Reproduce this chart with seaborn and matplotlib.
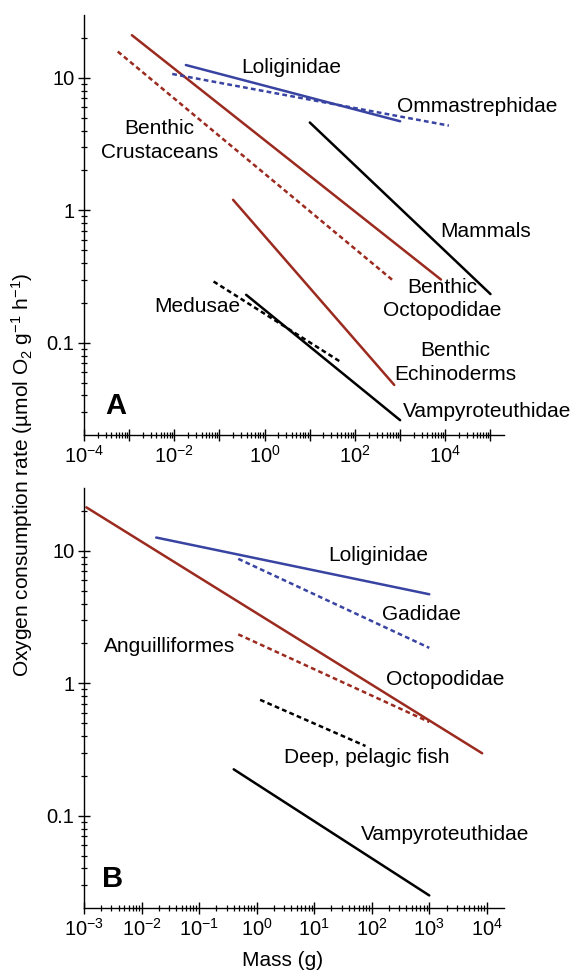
import matplotlib
matplotlib.use("Agg")
import matplotlib.pyplot as plt
import matplotlib.ticker as mticker
import numpy as np
import pandas as pd
import seaborn as sns

# Panel A: fitted allometric lines (mass in g, rate in umol O2 g-1 h-1), start and end of each line
a_groups = ["Benthic Octopodidae", "Benthic Crustaceans", "Loliginidae", "Ommastrephidae",
            "Mammals", "Benthic Echinoderms", "Medusae", "Vampyroteuthidae"]
a_mass_lo = [1.15e-3, 5.6e-4, 0.018, 0.009, 10, 0.2, 0.074, 0.39]
a_mass_hi = [8000, 740, 1000, 12000, 1e5, 740, 47, 1000]
a_rate_lo = [21, 15.8, 12.5, 10.7, 4.6, 1.2, 0.29, 0.23]
a_rate_hi = [0.30, 0.29, 4.7, 4.36, 0.233, 0.048, 0.072, 0.026]

# Panel B
b_groups = ["Octopodidae", "Loliginidae", "Gadidae", "Anguilliformes",
            "Deep, pelagic fish", "Vampyroteuthidae"]
b_mass_lo = [1.1e-3, 0.018, 0.48, 0.48, 1.15, 0.4]
b_mass_hi = [8300, 1000, 1000, 1000, 78, 1000]
b_rate_lo = [21.3, 12.6, 8.7, 2.34, 0.75, 0.224]
b_rate_hi = [0.296, 4.7, 1.85, 0.51, 0.336, 0.025]

y_tick_values = [0.1, 1, 10]
y_tick_labels = ["0.1", "1", "10"]

RED = "#9b2a1f"
BLUE = "#3843a2"
BLACK = "#000000"
DASH = (1.9, 1.3)

a_colors = {"Benthic Octopodidae": RED, "Benthic Crustaceans": RED, "Loliginidae": BLUE,
            "Ommastrephidae": BLUE, "Mammals": BLACK, "Benthic Echinoderms": RED,
            "Medusae": BLACK, "Vampyroteuthidae": BLACK}
a_dashed = ["Benthic Crustaceans", "Ommastrephidae", "Medusae"]
b_colors = {"Octopodidae": RED, "Loliginidae": BLUE, "Gadidae": BLUE, "Anguilliformes": RED,
            "Deep, pelagic fish": BLACK, "Vampyroteuthidae": BLACK}
b_dashed = ["Gadidae", "Anguilliformes", "Deep, pelagic fish"]

# label placement (data coords)
a_text = [
    ("Loliginidae", 10 ** 0.6, 12.0, "center"),
    ("Ommastrephidae", 10 ** 2.92, 6.1, "left"),
    ("Benthic\nCrustaceans", 10 ** -2.33, 3.36, "center"),
    ("Mammals", 10 ** 4.9, 0.69, "center"),
    ("Benthic\nOctopodidae", 10 ** 3.94, 0.214, "center"),
    ("Medusae", 10 ** -1.5, 0.188, "center"),
    ("Benthic\nEchinoderms", 10 ** 4.23, 0.071, "center"),
    ("Vampyroteuthidae", 10 ** 3.06, 0.0305, "left"),
]
b_text = [
    ("Loliginidae", 10 ** 2.11, 9.2, "center"),
    ("Gadidae", 10 ** 2.86, 3.3, "center"),
    ("Anguilliformes", 10 ** -1.51, 1.91, "center"),
    ("Octopodidae", 10 ** 3.27, 1.06, "center"),
    ("Deep, pelagic fish", 10 ** 1.92, 0.274, "center"),
    ("Vampyroteuthidae", 10 ** 3.28, 0.0718, "center"),
]

sns.set_theme(style="ticks")
plt.rcParams["font.family"] = ["Liberation Sans", "DejaVu Sans"]
plt.rcParams["mathtext.fontset"] = "custom"
plt.rcParams["mathtext.rm"] = "Liberation Sans"
plt.rcParams["mathtext.it"] = "Liberation Sans:italic"
plt.rcParams["mathtext.bf"] = "Liberation Sans:bold"
plt.rcParams["axes.linewidth"] = 1.0
plt.rcParams["axes.edgecolor"] = "black"
plt.rcParams["axes.labelcolor"] = "black"
plt.rcParams["text.color"] = "black"
plt.rcParams["xtick.color"] = "black"
plt.rcParams["ytick.color"] = "black"
plt.rcParams["xtick.labelcolor"] = "black"
plt.rcParams["ytick.labelcolor"] = "black"


def draw_lines(ax, groups, mass_lo, mass_hi, rate_lo, rate_hi, colors, dashed):
    df = pd.DataFrame({
        "group": groups + groups,
        "mass": mass_lo + mass_hi,
        "rate": rate_lo + rate_hi,
    })
    dashes = {g: (DASH if g in dashed else "") for g in groups}
    sns.lineplot(data=df, x="mass", y="rate", hue="group", style="group",
                 palette=colors, dashes=dashes, estimator=None, sort=True,
                 legend=False, lw=1.8, ax=ax)
    ax.set_xlabel("")
    ax.set_ylabel("")


def style_axes(ax, xmin_exp, xmax, labeled_exps):
    ax.set_xscale("log")
    ax.set_yscale("log")
    ax.set_xlim(10.0 ** xmin_exp, xmax)
    ax.set_ylim(0.0201, 29.8)

    max_exp = int(np.floor(np.log10(xmax)))
    majors = [10.0 ** e for e in range(xmin_exp, max_exp + 1)]
    ax.xaxis.set_major_locator(mticker.FixedLocator(majors))

    def fmt(v, pos):
        e = int(round(np.log10(v)))
        if e in labeled_exps:
            return r"$\mathdefault{10^{%d}}$" % e
        return ""

    ax.xaxis.set_major_formatter(mticker.FuncFormatter(fmt))
    ax.xaxis.set_minor_locator(mticker.LogLocator(base=10, subs=np.arange(2, 10), numticks=40))
    ax.xaxis.set_minor_formatter(mticker.NullFormatter())

    ax.yaxis.set_major_locator(mticker.FixedLocator(y_tick_values))
    ax.yaxis.set_major_formatter(mticker.FixedFormatter(y_tick_labels))
    ax.yaxis.set_minor_locator(mticker.LogLocator(base=10, subs=np.arange(2, 10), numticks=40))
    ax.yaxis.set_minor_formatter(mticker.NullFormatter())

    ax.tick_params(which="major", direction="inout", length=8, width=1.0,
                   labelsize=14.5, pad=3, colors="black")
    ax.tick_params(which="minor", direction="inout", length=4.5, width=0.9, colors="black")
    sns.despine(ax=ax)


fig = plt.figure(figsize=(5.76, 9.71), dpi=100)
ax_a = fig.add_axes([0.1458, 0.552, 0.729, 0.4325])
ax_b = fig.add_axes([0.1458, 0.0649, 0.729, 0.4325])

style_axes(ax_a, -4, 1.98e5, [-4, -2, 0, 2, 4])
draw_lines(ax_a, a_groups, a_mass_lo, a_mass_hi, a_rate_lo, a_rate_hi, a_colors, a_dashed)
style_axes(ax_b, -3, 1.98e4, [-3, -2, -1, 0, 1, 2, 3, 4])
draw_lines(ax_b, b_groups, b_mass_lo, b_mass_hi, b_rate_lo, b_rate_hi, b_colors, b_dashed)

for ax, texts in ((ax_a, a_text), (ax_b, b_text)):
    for s, x, y, ha in texts:
        ax.text(x, y, s, ha=ha, va="center", fontsize=15, linespacing=1.3,
                color="black", clip_on=False)

ax_a.text(5.0e-4, 0.0333, "A", ha="center", va="center", fontsize=21,
          fontweight="bold", color="black")
ax_b.text(3.2e-3, 0.033, "B", ha="center", va="center", fontsize=21,
          fontweight="bold", color="black")

fig.text(22 / 576, 1 - 475 / 971,
         r"Oxygen consumption rate (µmol O$_\mathdefault{2}$ g$^\mathdefault{-1}$ h$^\mathdefault{-1}$)",
         rotation=90, ha="center", va="center", fontsize=15, color="black")
fig.text(283 / 576, 1 - 960 / 971, "Mass (g)", ha="center", va="center",
         fontsize=15, color="black")

fig.savefig("out.png", dpi=100)
